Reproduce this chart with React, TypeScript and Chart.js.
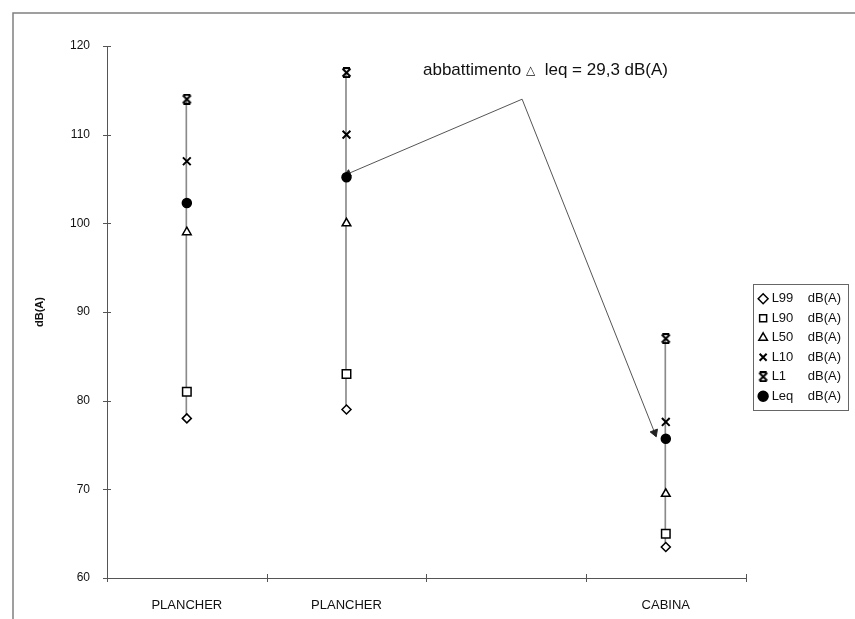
import React, { useEffect, useRef } from "react";
import { Chart, registerables } from "chart.js";

Chart.register(...registerables);

const categories = ["PLANCHER", "PLANCHER", "", "CABINA"];
const seriesNames = ["L99    dB(A)", "L90    dB(A)", "L50    dB(A)", "L10    dB(A)", "L1      dB(A)", "Leq    dB(A)"];
const L99 = [78, 79, null, 63.5];
const L90 = [81, 83, null, 65];
const L50 = [99, 100, null, 69.5];
const L10 = [107, 110, null, 77.6];
const L1 = [114, 117, null, 87];
const Leq = [102.3, 105.2, null, 75.7];
const arrowX = [1.01, 2.1, 2.93];
const arrowY = [105.6, 114, 76.4];
const yTicks = [60, 70, 80, 90, 100, 110, 120];
const axisTitle = "dB(A)";
const noteMain = "abbattimento ";
const noteSymbol = "△";
const noteRest = "  leq = 29,3 dB(A)";

const FONT = "'Liberation Sans', Arial, sans-serif";

function makeL1Marker(): HTMLCanvasElement {
  const c = document.createElement("canvas");
  c.width = 11;
  c.height = 11;
  const g = c.getContext("2d")!;
  g.strokeStyle = "#000";
  g.lineWidth = 2;
  g.beginPath();
  g.moveTo(1.5, 1.5);
  g.lineTo(9.5, 9.5);
  g.moveTo(9.5, 1.5);
  g.lineTo(1.5, 9.5);
  g.moveTo(2, 1);
  g.lineTo(9, 1);
  g.moveTo(2, 10);
  g.lineTo(9, 10);
  g.stroke();
  return c;
}

export default function App() {
  const ref = useRef<HTMLCanvasElement | null>(null);

  useEffect(() => {
    const canvas = ref.current;
    if (!canvas) return;
    Chart.defaults.font.family = FONT;
    const l1Marker = makeL1Marker();

    const ranges = categories.map((_, i) => {
      const vals = [L99[i], L90[i], L50[i], L10[i], L1[i], Leq[i]].filter((v) => v != null) as number[];
      return vals.length ? [Math.min(...vals), Math.max(...vals)] : null;
    });

    const framePlugin = {
      id: "frame",
      afterLayout(chart: any) {
        const lg = chart.legend;
        if (lg) {
          lg.left += 9;
          lg.right += 9;
        }
      },
      beforeDraw(chart: any) {
        const ctx = chart.ctx;
        ctx.save();
        ctx.fillStyle = "#fff";
        ctx.fillRect(0, 0, chart.width, chart.height);
        ctx.strokeStyle = "#808080";
        ctx.lineWidth = 1.5;
        ctx.beginPath();
        ctx.moveTo(13, chart.height);
        ctx.lineTo(13, 13);
        ctx.lineTo(chart.width, 13);
        ctx.stroke();
        ctx.restore();
      },
      afterDraw(chart: any) {
        const ctx = chart.ctx;
        const xs = chart.scales.x;
        const ys = chart.scales.y;
        ctx.save();
        ctx.strokeStyle = "#555";
        ctx.lineWidth = 1;
        ctx.beginPath();
        yTicks.forEach((v) => {
          const py = Math.round(ys.getPixelForValue(v)) + 0.5;
          ctx.moveTo(xs.left - 4, py);
          ctx.lineTo(xs.left + 4, py);
        });
        const n = categories.length;
        for (let i = 0; i <= n; i++) {
          const px = Math.round(xs.left + (i * (xs.right - xs.left)) / n) + 0.5;
          ctx.moveTo(px, ys.bottom - 4);
          ctx.lineTo(px, ys.bottom + 4);
        }
        ctx.stroke();

        // legend frame
        const boxes = chart.legend?.legendHitBoxes || [];
        if (boxes.length) {
          let l = Infinity, t = Infinity, r = -Infinity, b = -Infinity;
          boxes.forEach((h: any) => {
            l = Math.min(l, h.left);
            t = Math.min(t, h.top);
            r = Math.max(r, h.left + h.width);
            b = Math.max(b, h.top + h.height);
          });
          ctx.strokeStyle = "#666";
          ctx.lineWidth = 1;
          ctx.strokeRect(Math.round(l - 8) + 0.5, Math.round(t - 8) + 0.5, Math.round(r - l + 15), Math.round(b - t + 15));
        }

        // annotation text
        ctx.fillStyle = "#111";
        ctx.textBaseline = "middle";
        ctx.textAlign = "left";
        let x = 423;
        const y = 70;
        ctx.font = `17px ${FONT}`;
        ctx.fillText(noteMain, x, y);
        x += ctx.measureText(noteMain).width;
        ctx.font = `12px 'DejaVu Sans', ${FONT}`;
        ctx.fillText(noteSymbol, x, y + 1);
        x += ctx.measureText(noteSymbol).width;
        ctx.font = `17px ${FONT}`;
        ctx.fillText(noteRest, x, y);
        ctx.restore();
      },
    };

    const marker = (label: string, data: (number | null)[], style: any, radius: number, fill: string, bw = 1.5) => ({
      type: "line" as const,
      label,
      data,
      showLine: false,
      pointStyle: style,
      pointRadius: radius,
      pointBackgroundColor: fill,
      pointBorderColor: "#000",
      pointBorderWidth: bw,
      backgroundColor: fill,
      borderColor: "#000",
      borderWidth: bw,
      xAxisID: "x",
      yAxisID: "y",
    });

    const chart = new Chart(canvas, {
      type: "line",
      data: {
        labels: categories,
        datasets: [
          marker(seriesNames[0], L99, "rectRot", 4.5, "#fff"),
          marker(seriesNames[1], L90, "rect", 6, "#fff"),
          marker(seriesNames[2], L50, "triangle", 5, "#fff"),
          marker(seriesNames[3], L10, "crossRot", 5.5, "#000", 2),
          marker(seriesNames[4], L1, l1Marker, 5.5, "#000", 2),
          marker(seriesNames[5], Leq, "circle", 4.5, "#000"),
          {
            type: "line",
            label: "abbattimento",
            data: arrowX.map((x, i) => ({ x, y: arrowY[i] })),
            xAxisID: "x2",
            yAxisID: "y",
            borderColor: "#555",
            borderWidth: 1,
            pointStyle: "triangle",
            pointRadius: [4, 0, 4.5],
            pointRotation: [247, 0, 159],
            pointBackgroundColor: "#222",
            pointBorderColor: "#222",
            pointBorderWidth: 1,
            tension: 0,
          } as any,
          {
            type: "bar",
            label: "range",
            data: ranges as any,
            xAxisID: "x",
            yAxisID: "y",
            backgroundColor: "#8a8a8a",
            borderWidth: 0,
            barThickness: 1,
          } as any,
        ],
      },
      options: {
        responsive: false,
        animation: false,
        layout: { padding: { top: 46, left: 0, right: 13, bottom: 0 } },
        scales: {
          x: {
            type: "category",
            offset: true,
            grid: { display: false },
            border: { display: true, color: "#555", width: 1 },
            ticks: { padding: 12, color: "#111", font: { size: 13 }, maxRotation: 0, autoSkip: false },
            afterFit: (s: any) => {
              s.height = 41;
            },
          },
          x2: { type: "linear", display: false, min: -0.5, max: 3.5 },
          y: {
            min: 60,
            max: 120,
            grid: { display: false },
            border: { display: true, color: "#555", width: 1 },
            ticks: { stepSize: 10, padding: 9, color: "#111", font: { size: 12 } },
            title: { display: true, text: axisTitle, color: "#111", font: { size: 11, weight: "bold" }, padding: { top: 33, bottom: 0 } },
            afterFit: (s: any) => {
              s.width = 107;
            },
          },
        },
        plugins: {
          legend: {
            position: "right",
            title: { display: true, text: " ", font: { size: 10, lineHeight: 1.2 }, padding: { top: 18, bottom: 0 } },
            labels: {
              usePointStyle: true,
              boxHeight: 7,
              boxWidth: 4,
              padding: 6.5,
              color: "#111",
              font: { size: 13 },
              filter: (item: any) => item.datasetIndex < 6,
            },
          },
          tooltip: { enabled: false },
        },
      } as any,
      plugins: [framePlugin],
    });

    return () => chart.destroy();
  }, []);

  return (
    <div style={{ position: "absolute", left: 0, top: 0, width: 855, height: 619, background: "#fff" }}>
      <canvas ref={ref} width={855} height={619} style={{ display: "block", width: 855, height: 619 }} />
    </div>
  );
}
